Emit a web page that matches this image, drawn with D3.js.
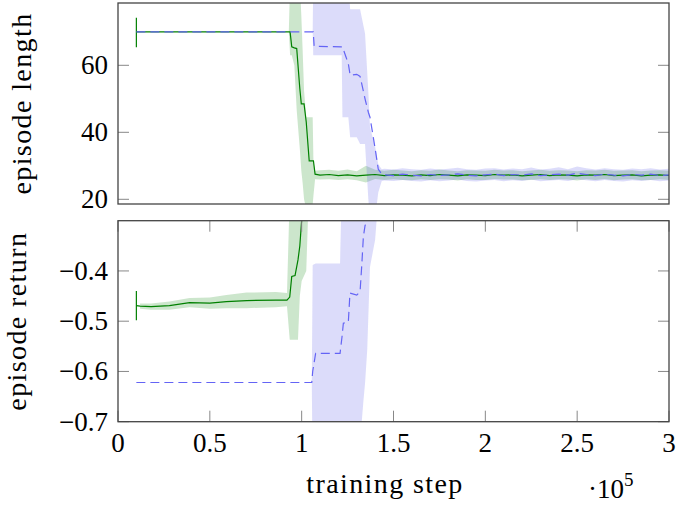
<!DOCTYPE html>
<html>
<head>
<meta charset="utf-8">
<script src="https://cdn.jsdelivr.net/npm/d3@7/dist/d3.min.js"></script>
<style>
  body { margin: 0; background: #fff; }
  text { font-family: "Liberation Serif", "DejaVu Serif", serif; fill: #000; }
</style>
</head>
<body>
<div id="chart"></div>
<script>
// x values are training steps in units of 10^5
// rows: [step, mean, lower, upper]
var greenLength = [
  [0.10, 70, 65.4, 74.2],
  [0.93, 70, 70, 70],
  [0.937, 70, 63, 85],
  [0.946, 65.5, 63, 85],
  [0.96, 65.2, 60, 85],
  [0.973, 65.0, 46.5, 85],
  [0.99, 53, 35, 85],
  [0.998, 48.5, 28.5, 75],
  [1.005, 48.5, 25, 65],
  [1.013, 48.5, 20, 52.5],
  [1.025, 43, 17, 44.5],
  [1.041, 31.5, 15, 44.5],
  [1.055, 31.5, 17, 44.5],
  [1.06, 31.5, 18.5, 44.5],
  [1.064, 31.5, 21, 31.5],
  [1.073, 27.5, 26, 28.5],
  [1.10, 27.2, 25.9, 28.7], [1.15, 27.4, 26.0, 28.8], [1.20, 27.1, 25.8, 28.5],
  [1.25, 27.3, 26.0, 28.9], [1.30, 27.0, 25.7, 28.4], [1.35, 27.2, 25.0, 30.0],
  [1.40, 27.4, 26.1, 28.8], [1.45, 27.1, 25.8, 28.5], [1.50, 27.3, 26.0, 28.8],
  [1.55, 27.2, 25.8, 28.6], [1.60, 27.0, 25.7, 28.4], [1.65, 27.3, 26.0, 28.7],
  [1.70, 27.1, 25.8, 28.5], [1.75, 27.4, 26.0, 28.9], [1.80, 27.2, 25.9, 28.6],
  [1.85, 27.0, 25.6, 28.4], [1.90, 27.3, 26.0, 28.7], [1.95, 27.2, 25.8, 28.6],
  [2.00, 27.1, 25.8, 28.5], [2.05, 27.4, 26.1, 28.8], [2.10, 27.2, 25.9, 28.6],
  [2.15, 27.3, 25.9, 28.7], [2.20, 27.0, 25.7, 28.4], [2.25, 27.2, 25.8, 28.6],
  [2.30, 27.4, 26.0, 28.8], [2.35, 27.1, 25.8, 28.5], [2.40, 27.3, 26.0, 28.7],
  [2.45, 27.2, 25.9, 28.6], [2.50, 27.0, 25.6, 28.4], [2.55, 27.3, 26.0, 28.7],
  [2.60, 27.2, 25.8, 28.6], [2.65, 27.4, 26.1, 28.8], [2.70, 27.1, 25.7, 28.5],
  [2.75, 27.2, 25.9, 28.6], [2.80, 27.3, 26.0, 28.7], [2.85, 27.0, 25.7, 28.4],
  [2.90, 27.2, 25.8, 28.6], [2.95, 27.3, 26.0, 28.7], [3.00, 27.1, 25.8, 28.5]
];

var blueLength = [
  [0.10, 70, 70, 70],
  [1.06, 70, 70, 70],
  [1.063, 70, 63, 85],
  [1.068, 65.7, 63, 85],
  [1.218, 65.5, 63, 85],
  [1.222, 65.5, 44.5, 85],
  [1.254, 60.5, 44.5, 85],
  [1.264, 57, 38.5, 76.7],
  [1.300, 57.3, 38.5, 76.7],
  [1.318, 56.7, 36.5, 76.7],
  [1.345, 50, 36.5, 69.5],
  [1.363, 46, 20, 52],
  [1.372, 44.5, 14, 41.5],
  [1.399, 35.5, 14, 36],
  [1.417, 29, 22, 30.5],
  [1.436, 27.5, 25.5, 29],
  [1.45, 27.3, 25.6, 29.1], [1.50, 27.1, 25.5, 28.9], [1.55, 27.5, 25.8, 29.3],
  [1.60, 27.2, 25.5, 29.0], [1.65, 27.0, 25.3, 28.8], [1.70, 27.4, 25.7, 29.2],
  [1.75, 27.1, 25.4, 28.9], [1.80, 27.3, 25.6, 29.1], [1.85, 27.6, 25.9, 29.4],
  [1.90, 27.2, 25.5, 29.0], [1.95, 27.0, 25.3, 28.8], [2.00, 27.3, 25.6, 29.2],
  [2.05, 27.5, 25.8, 29.3], [2.10, 27.1, 25.4, 28.9], [2.15, 27.4, 25.7, 29.2],
  [2.20, 27.2, 25.5, 29.0], [2.25, 27.6, 25.9, 29.5], [2.30, 27.1, 25.4, 28.9],
  [2.35, 27.3, 25.6, 29.1], [2.40, 27.5, 25.8, 29.6], [2.45, 27.2, 25.5, 29.0],
  [2.50, 27.8, 26.0, 29.8], [2.55, 27.4, 25.7, 29.3], [2.60, 27.1, 25.4, 28.9],
  [2.65, 27.5, 25.8, 29.3], [2.70, 27.2, 25.5, 29.0], [2.75, 27.0, 25.3, 28.8],
  [2.80, 27.4, 25.7, 29.2], [2.85, 27.2, 25.5, 29.0], [2.90, 27.5, 25.8, 29.3],
  [2.95, 27.1, 25.4, 28.9], [3.00, 27.3, 25.6, 29.1]
];

var greenReturn = [
  [0.10, -0.469, -0.498, -0.440],
  [0.12, -0.470, -0.475, -0.465],
  [0.18, -0.471, -0.477, -0.465],
  [0.28, -0.469, -0.477, -0.461],
  [0.39, -0.463, -0.472, -0.454],
  [0.50, -0.464, -0.475, -0.453],
  [0.59, -0.461, -0.474, -0.448],
  [0.70, -0.459, -0.474, -0.443],
  [0.86, -0.458, -0.472, -0.442],
  [0.92, -0.458, -0.470, -0.444],
  [0.935, -0.452, -0.537, -0.25],
  [0.946, -0.411, -0.537, -0.2],
  [0.964, -0.409, -0.537, -0.2],
  [0.98, -0.378, -0.537, -0.2],
  [0.99, -0.35, -0.45, -0.2],
  [1.00, -0.299, -0.42, -0.2],
  [1.025, -0.26, -0.40, -0.15],
  [1.035, -0.25, -0.29, -0.21],
  [1.10, -0.27, -0.285, -0.255],
  [3.00, -0.26, -0.275, -0.245]
];

var blueReturn = [
  [0.10, -0.622, -0.622, -0.622],
  [1.055, -0.622, -0.622, -0.622],
  [1.060, -0.60, -0.80, -0.388],
  [1.076, -0.564, -0.80, -0.385],
  [1.209, -0.564, -0.80, -0.385],
  [1.220, -0.530, -0.80, -0.2],
  [1.227, -0.504, -0.80, -0.2],
  [1.254, -0.502, -0.80, -0.2],
  [1.263, -0.444, -0.80, -0.2],
  [1.300, -0.448, -0.80, -0.2],
  [1.318, -0.441, -0.78, -0.2],
  [1.327, -0.39, -0.70, -0.2],
  [1.336, -0.332, -0.66, -0.2],
  [1.345, -0.31, -0.624, -0.2],
  [1.357, -0.299, -0.557, -0.2],
  [1.372, -0.27, -0.392, -0.2],
  [1.40, -0.26, -0.338, -0.2],
  [1.41, -0.26, -0.29, -0.22],
  [3.00, -0.26, -0.28, -0.24]
];

var xTicks = [0, 0.5, 1, 1.5, 2, 2.5, 3];
var lengthTicks = [20, 40, 60];
var returnTicks = [-0.7, -0.6, -0.5, -0.4];

// layout
var W = 677, H = 507;
var left = 118, right = 669;
var topPanel = { y0: 3, y1: 204 };
var botPanel = { y0: 220.7, y1: 421.7 };

var svg = d3.select('#chart').append('svg')
    .attr('width', W)
    .attr('height', H);

var x = d3.scaleLinear().domain([0, 3]).range([left, right]);
var yLen = d3.scaleLinear().domain([18.6, 78.6]).range([topPanel.y1, topPanel.y0]);
var yRet = d3.scaleLinear().domain([-0.7, -0.3]).range([botPanel.y1, botPanel.y0]);

var green = '#008000', blue = '#6464f5';

function fmt(v) {
    return d3.format('.1f')(v).replace('-', '\u2212');
}

function drawPanel(name, panel, y, series, ticks, tickFmt, showXLabels) {
    var g = svg.append('g');

    // clip to the plot area
    svg.append('clipPath').attr('id', 'clip-' + name)
        .append('rect')
        .attr('x', left).attr('y', panel.y0)
        .attr('width', right - left).attr('height', panel.y1 - panel.y0);

    var plot = g.append('g').attr('clip-path', 'url(#clip-' + name + ')');

    // bands
    series.forEach(function (s) {
        plot.append('path')
            .datum(s.rows.slice(1))
            .attr('fill', s.band)
            .attr('fill-opacity', s.bandOpacity)
            .attr('stroke', 'none')
            .attr('d', d3.area()
                .x(function (d) { return x(d[0]); })
                .y0(function (d) { return y(d[2]); })
                .y1(function (d) { return y(d[3]); }));
    });

    // mean lines
    series.forEach(function (s) {
        plot.append('path')
            .datum(s.rows)
            .attr('fill', 'none')
            .attr('stroke', s.color)
            .attr('stroke-width', 1.2)
            .attr('stroke-dasharray', s.dash || null)
            .attr('d', d3.line()
                .x(function (d) { return x(d[0]); })
                .y(function (d) { return y(d[1]); }));
        if (s.startBar) {
            var d0 = s.rows[0];
            plot.append('line')
                .attr('x1', x(d0[0])).attr('x2', x(d0[0]))
                .attr('y1', y(d0[2])).attr('y2', y(d0[3]))
                .attr('stroke', s.color)
                .attr('stroke-width', 1.2);
        }
    });

    // y ticks left and right, pointing inward
    var tl = 11;
    ticks.forEach(function (t) {
        g.append('line')
            .attr('x1', left).attr('x2', left + tl)
            .attr('y1', y(t)).attr('y2', y(t))
            .attr('stroke', '#888').attr('stroke-width', 1);
        g.append('line')
            .attr('x1', right - tl).attr('x2', right)
            .attr('y1', y(t)).attr('y2', y(t))
            .attr('stroke', '#888').attr('stroke-width', 1);
        g.append('text')
            .attr('x', left - 10)
            .attr('y', y(t))
            .attr('dy', '0.33em')
            .attr('text-anchor', 'end')
            .style('font-size', '27px')
            .text(tickFmt(t));
    });

    if (showXLabels) {
        xTicks.forEach(function (t) {
            g.append('line')
                .attr('x1', x(t)).attr('x2', x(t))
                .attr('y1', panel.y1).attr('y2', panel.y1 - tl)
                .attr('stroke', '#888').attr('stroke-width', 1);
            g.append('line')
                .attr('x1', x(t)).attr('x2', x(t))
                .attr('y1', panel.y0).attr('y2', panel.y0 + tl)
                .attr('stroke', '#888').attr('stroke-width', 1);
            g.append('text')
                .attr('x', x(t))
                .attr('y', panel.y1 + 30)
                .attr('text-anchor', 'middle')
                .style('font-size', '27px')
                .text(t);
        });
    }

    // frame
    g.append('rect')
        .attr('x', left).attr('y', panel.y0)
        .attr('width', right - left).attr('height', panel.y1 - panel.y0)
        .attr('fill', 'none')
        .attr('stroke', '#444')
        .attr('stroke-width', 1.3);
}

drawPanel('len', topPanel, yLen, [
    { rows: greenLength, color: green, band: green, bandOpacity: 0.2, startBar: true },
    { rows: blueLength, color: blue, band: 'rgb(60,60,230)', bandOpacity: 0.18, dash: '9,5' }
], lengthTicks, function (t) { return t; }, false);

drawPanel('ret', botPanel, yRet, [
    { rows: greenReturn, color: green, band: green, bandOpacity: 0.2, startBar: true },
    { rows: blueReturn, color: blue, band: 'rgb(60,60,230)', bandOpacity: 0.18, dash: '9,5' }
], returnTicks, fmt, true);

// axis labels
var labelStyle = function (sel) {
    sel.attr('text-anchor', 'middle')
        .style('font-size', '28px')
        .style('letter-spacing', '1.4px');
};

svg.append('text')
    .attr('transform', 'translate(31,' + (topPanel.y0 + topPanel.y1) / 2 + ') rotate(-90)')
    .call(labelStyle)
    .text('episode length');

svg.append('text')
    .attr('transform', 'translate(26,' + (botPanel.y0 + botPanel.y1) / 2 + ') rotate(-90)')
    .call(labelStyle)
    .text('episode return');

svg.append('text')
    .attr('x', 385)
    .attr('y', 493)
    .call(labelStyle)
    .text('training step');

var mult = svg.append('text')
    .attr('x', 588)
    .attr('y', 498)
    .style('font-size', '27px');
mult.append('tspan').text('\u00b710');
mult.append('tspan').attr('dy', -12).style('font-size', '19px').text('5');
</script>
</body>
</html>
